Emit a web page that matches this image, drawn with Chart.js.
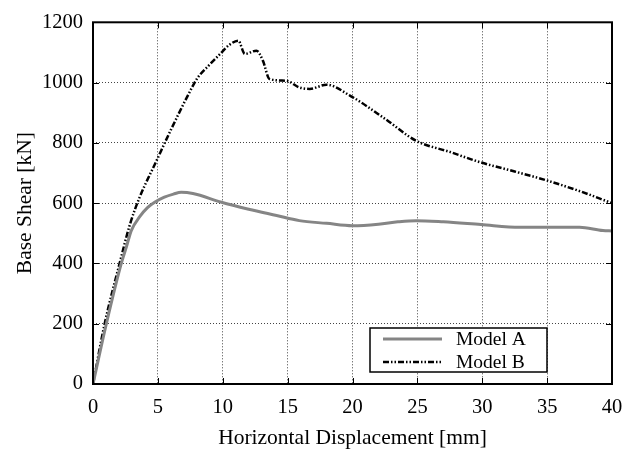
<!DOCTYPE html>
<html>
<head>
<meta charset="utf-8">
<script src="https://cdn.jsdelivr.net/npm/chart.js@4/dist/chart.umd.min.js"></script>
<style>
  html, body { margin: 0; padding: 0; background: #fff; }
  #wrap { width: 644px; height: 451px; }
</style>
</head>
<body>
<div id="wrap"><canvas id="chart" width="644" height="451"></canvas></div>
<script>
// Datos
const modelAX = [0, 1.03, 2.18, 2.57, 2.95, 3.6, 4.2, 4.75, 5.5, 6.2, 6.8, 7.7, 9.9, 12, 14.15, 15.9, 18, 20, 22, 23.5, 24.9, 27, 29.9, 32.9, 35, 37.5, 39.3, 40];
const modelAY = [0, 200, 400, 454, 509, 555, 585, 603, 620, 630, 636, 632, 603, 580, 559, 542, 533, 525, 530, 538, 542, 538, 529, 520, 520, 520, 509, 508];
const modelBX = [0, 0.9, 2.05, 2.85, 3.6, 4.9, 6, 7.5, 8, 9, 9.8, 10.5, 11.2, 11.7, 12.6, 13.1, 13.6, 14.9, 15.9, 16.7, 18, 19.8, 22.5, 24.9, 27.5, 29.9, 32.5, 35, 37.5, 40];
const modelBY = [0, 200, 400, 530, 620, 741, 843, 973, 1012, 1060, 1095, 1125, 1139, 1095, 1106, 1072, 1012, 1006, 984, 979, 993, 957, 880, 807, 770, 735, 705, 675, 640, 600];
const seriesNames = ['Model A', 'Model B'];
const xTicks = [0, 5, 10, 15, 20, 25, 30, 35, 40];
const yTicks = [0, 200, 400, 600, 800, 1000, 1200];

const FONT = '"Liberation Serif", "DejaVu Serif", serif';
const dashB = [6, 2, 1.5, 2, 1.5, 2];

const toPoints = (xs, ys) => xs.map((x, i) => ({ x, y: ys[i] }));

// Marco y marcas de graduación hacia dentro
const framePlugin = {
    id: 'frame',
    afterDatasetsDraw(chart) {
        const { ctx, chartArea: a, scales } = chart;
        ctx.save();
        ctx.strokeStyle = '#000';
        ctx.lineWidth = 1;
        ctx.beginPath();
        xTicks.forEach(v => {
            const px = Math.round(scales.x.getPixelForValue(v)) + 0.5;
            ctx.moveTo(px, a.bottom); ctx.lineTo(px, a.bottom - 6);
            ctx.moveTo(px, a.top); ctx.lineTo(px, a.top + 6);
        });
        yTicks.forEach(v => {
            const py = Math.round(scales.y.getPixelForValue(v)) + 0.5;
            ctx.moveTo(a.left, py); ctx.lineTo(a.left + 6, py);
            ctx.moveTo(a.right, py); ctx.lineTo(a.right - 6, py);
        });
        ctx.stroke();
        ctx.lineWidth = 2;
        ctx.strokeRect(a.left, a.top, a.right - a.left, a.bottom - a.top);
        ctx.restore();
    }
};

// Leyenda dentro del área del gráfico
const legendPlugin = {
    id: 'boxLegend',
    afterDraw(chart) {
        const { ctx } = chart;
        const left = 370, top = 328, w = 177, h = 44;
        ctx.save();
        ctx.fillStyle = '#fff';
        ctx.fillRect(left, top, w, h);
        ctx.strokeStyle = '#000';
        ctx.lineWidth = 1.5;
        ctx.strokeRect(left, top, w, h);
        chart.data.datasets.forEach((ds, i) => {
            const y = top + 11 + i * 23;
            ctx.beginPath();
            ctx.strokeStyle = ds.borderColor;
            ctx.lineWidth = ds.borderWidth;
            ctx.setLineDash(ds.borderDash || []);
            ctx.moveTo(left + 13, y);
            ctx.lineTo(left + 72, y);
            ctx.stroke();
            ctx.setLineDash([]);
            ctx.fillStyle = '#000';
            ctx.font = '19.5px ' + FONT;
            ctx.textBaseline = 'middle';
            ctx.fillText(ds.label, left + 86, y + 1);
        });
        ctx.restore();
    }
};

new Chart(document.getElementById('chart'), {
    type: 'scatter',
    data: {
        datasets: [{
            label: seriesNames[0],
            data: toPoints(modelAX, modelAY),
            showLine: true,
            borderColor: '#858585',
            borderWidth: 3,
            pointRadius: 0,
            cubicInterpolationMode: 'monotone'
        }, {
            label: seriesNames[1],
            data: toPoints(modelBX, modelBY),
            showLine: true,
            borderColor: '#000',
            borderWidth: 2.5,
            borderDash: dashB,
            pointRadius: 0,
            cubicInterpolationMode: 'monotone'
        }]
    },
    options: {
        responsive: false,
        animation: false,
        layout: { padding: { top: 22, right: 32, left: 0, bottom: 0 } },
        plugins: {
            legend: { display: false },
            tooltip: { enabled: false }
        },
        scales: {
            x: {
                type: 'linear',
                min: 0, max: 40,
                afterBuildTicks: s => { s.ticks = xTicks.map(v => ({ value: v })); },
                afterFit: s => { s.height = 67; },
                ticks: { color: '#000', font: { family: FONT, size: 20.5 }, padding: 11, maxRotation: 0, callback: v => String(v) },
                grid: { color: '#444', lineWidth: 1, drawTicks: false },
                border: { display: false, dash: [1, 2] },
                title: { display: true, text: 'Horizontal Displacement [mm]', color: '#000', font: { family: FONT, size: 21.5 }, padding: { top: -2, bottom: 0 } }
            },
            y: {
                min: 0, max: 1200,
                afterBuildTicks: s => { s.ticks = yTicks.map(v => ({ value: v })); },
                afterFit: s => { s.width = 93; },
                ticks: { color: '#000', font: { family: FONT, size: 20.5 }, padding: 10, callback: v => String(v) },
                grid: { color: '#444', lineWidth: 1, drawTicks: false },
                border: { display: false, dash: [1, 2] },
                title: { display: true, text: 'Base Shear [kN]', color: '#000', font: { family: FONT, size: 21.5 }, padding: { top: 12, bottom: 4 } }
            }
        }
    },
    plugins: [framePlugin, legendPlugin]
});
</script>
</body>
</html>
